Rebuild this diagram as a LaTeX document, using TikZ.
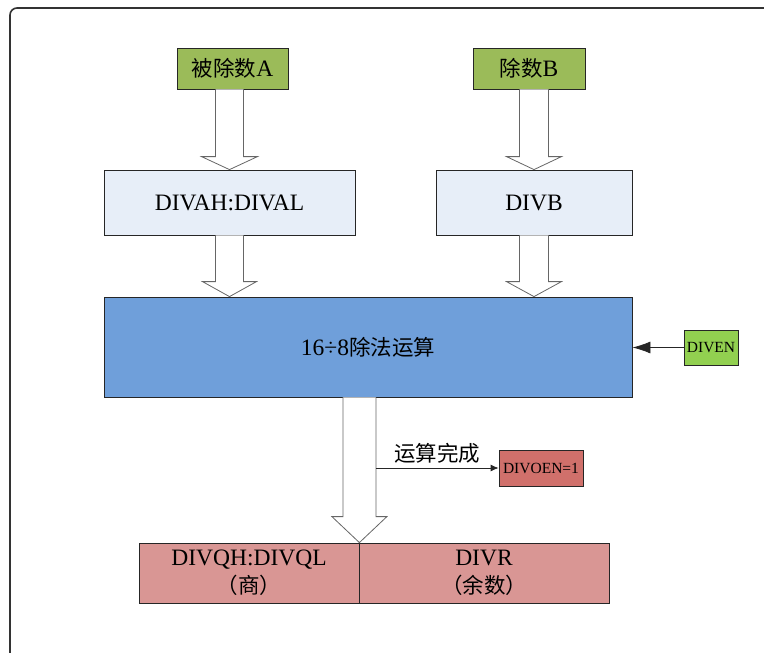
\documentclass[tikz,border=0pt]{standalone}
\usepackage{fontspec}
\setmainfont{Liberation Serif}
\newfontfamily\cjk{Noto Sans CJK SC}
\usetikzlibrary{calc,arrows.meta}
\definecolor{greenA}{HTML}{9BBB59}
\definecolor{greenEN}{HTML}{92D050}
\definecolor{lblue}{HTML}{E7EEF8}
\definecolor{mblue}{HTML}{6F9FDA}
\definecolor{pinkq}{HTML}{D99694}
\definecolor{redo}{HTML}{D0706B}
\newcommand\cjkbig{\cjk\fontsize{21.5}{28}\selectfont}
\tikzset{
  box/.style={draw=black!85,line width=0.8pt,inner sep=0pt,font=\fontsize{23.5}{28}\selectfont,align=center},
  smallbox/.style={draw=black!85,line width=0.8pt,inner sep=0pt,font=\fontsize{15.5}{18}\selectfont},
  hollow/.style={draw=black!60,fill=white,line width=0.8pt,line join=miter},
  tiparrow/.style={line width=0.8pt,draw=black!85}
}
\newcommand\holarr[5]{%
  \draw[hollow] ($(#2 |- #1)+(-#3,0)$) -- ($(#2)+(-#3,-#5)$) -- ($(#2)+(-#4,-#5)$) -- (#2)
     -- ($(#2)+(#4,-#5)$) -- ($(#2)+(#3,-#5)$) -- ($(#2 |- #1)+(#3,0)$);}
\begin{document}
\begin{tikzpicture}[x=1pt,y=-1pt]
\useasboundingbox (0,0) rectangle (764,653);
\clip (0,0) rectangle (764,653);
\draw[line width=1.6pt,black!80,rounded corners=7] (10,8) rectangle (800,700);

\node[box,fill=greenA,minimum width=111,minimum height=41] (A) at (232.5,68.5) {{\cjkbig 被除数}A};
\node[box,fill=greenA,minimum width=112,minimum height=41] (B) at (529,68.5) {{\cjkbig 除数}B};
\node[box,fill=lblue,minimum width=251,minimum height=65] (AL) at (229.5,202.5) {DIVAH:DIVAL};
\node[box,fill=lblue,minimum width=196,minimum height=65] (BL) at (534,202.5) {DIVB};
\node[box,fill=mblue,minimum width=528,minimum height=100] (core) at (368,347) {16÷8{\cjkbig 除法运算}};
\node[smallbox,fill=greenEN,minimum width=54,minimum height=35] (en) at (711,347.5) {DIVEN};
\node[smallbox,fill=redo,minimum width=84,minimum height=36] (oen) at (541,468) {DIVOEN=1};
\node[box,fill=pinkq,minimum width=220,minimum height=60] (q) at (249,573) {DIVQH:DIVQL\\{\cjkbig （商）}};
\node[box,fill=pinkq,minimum width=250,minimum height=60] (r) at (484,573) {DIVR\\{\cjkbig （余数）}};

\coordinate (ta) at (core.north -| AL.north);
\coordinate (tb) at (core.north -| BL.north);
\holarr{A.south}{AL.north}{14}{28}{13}
\holarr{B.south}{BL.north}{14.5}{27.5}{13}
\holarr{AL.south}{ta}{14}{27}{15}
\holarr{BL.south}{tb}{14.5}{27.5}{15}
\holarr{core.south}{q.north east}{16.5}{27.5}{26}

\coordinate (tap) at ($(q.north east |- oen.west)+(16.5,0)$);
\draw[tiparrow,-{Latex[length=8,width=7]}] (tap) -- node[above=1pt,font=\cjkbig] (lbl) {运算完成} (oen.west);
\draw[tiparrow,-{Latex[length=18,width=12]}] (en.west) -- (core.east |- en.west);
\end{tikzpicture}
\end{document}
